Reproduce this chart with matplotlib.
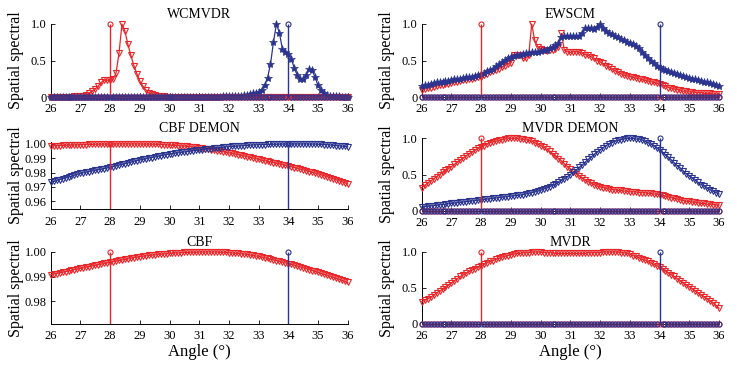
import numpy as np
import matplotlib
matplotlib.use("Agg")
import matplotlib.pyplot as plt

plt.rcParams["font.family"] = ["Liberation Serif", "DejaVu Serif"]

# scan grid (deg) and true source directions
angles = np.round(np.arange(26.0, 36.05, 0.1), 1)
source_angles = [28, 34]

wcmvdr_red = [
    0, 0, 0, 0, 0, 0, 0.005, 0.005, 0.01, 0.01,
    0.01, 0.02, 0.03, 0.05, 0.08, 0.11, 0.15, 0.2, 0.23, 0.23,
    0.23, 0.24, 0.33, 0.6, 1.0, 0.9, 0.72, 0.57, 0.43, 0.32,
    0.22, 0.15, 0.1, 0.06, 0.04, 0.03, 0.02, 0.01, 0.01, 0.005,
    0.005, 0, 0, 0, 0, 0, 0, 0, 0, 0,
    0, 0, 0, 0, 0, 0, 0, 0, 0, 0,
    0, 0, 0, 0, 0, 0, 0, 0, 0, 0,
    0, 0, 0, 0, 0, 0, 0, 0, 0, 0,
    0, 0, 0, 0, 0, 0, 0, 0, 0, 0,
    0, 0, 0, 0, 0, 0, 0, 0, 0, 0,
    0]
wcmvdr_blue = [
    0, 0, 0, 0, 0, 0, 0, 0, 0, 0,
    0, 0, 0, 0, 0, 0, 0, 0, 0, 0,
    0, 0, 0, 0, 0, 0, 0, 0, 0, 0,
    0, 0, 0, 0, 0, 0, 0, 0, 0, 0,
    0, 0, 0, 0, 0, 0, 0, 0, 0, 0,
    0, 0, 0, 0, 0, 0.005, 0.005, 0.005, 0.01, 0.01,
    0.01, 0.01, 0.01, 0.02, 0.02, 0.03, 0.03, 0.04, 0.05, 0.06,
    0.07, 0.1, 0.16, 0.26, 0.45, 0.75, 1.0, 0.88, 0.66, 0.62,
    0.59, 0.52, 0.4, 0.3, 0.25, 0.24, 0.3, 0.38, 0.37, 0.27,
    0.16, 0.09, 0.05, 0.03, 0.02, 0.01, 0.01, 0.01, 0.005, 0.005,
    0]

ewscm_red = [
    0.1, 0.11, 0.12, 0.13, 0.14, 0.15, 0.16, 0.17, 0.18, 0.18,
    0.19, 0.2, 0.21, 0.22, 0.23, 0.23, 0.24, 0.25, 0.26, 0.27,
    0.28, 0.3, 0.32, 0.34, 0.36, 0.37, 0.39, 0.41, 0.43, 0.45,
    0.47, 0.58, 0.58, 0.57, 0.53, 0.53, 0.57, 1.0, 0.78, 0.69,
    0.66, 0.64, 0.63, 0.64, 0.65, 0.66, 0.68, 0.87, 0.64, 0.62,
    0.61, 0.62, 0.62, 0.61, 0.6, 0.58, 0.57, 0.55, 0.53, 0.5,
    0.48, 0.46, 0.43, 0.41, 0.38, 0.36, 0.34, 0.32, 0.3, 0.29,
    0.28, 0.27, 0.26, 0.25, 0.24, 0.23, 0.22, 0.21, 0.2, 0.19,
    0.18, 0.16, 0.15, 0.13, 0.12, 0.11, 0.1, 0.09, 0.08, 0.08,
    0.07, 0.07, 0.06, 0.06, 0.06, 0.05, 0.05, 0.05, 0.04, 0.04,
    0.04]
ewscm_blue = [
    0.15, 0.16, 0.17, 0.18, 0.19, 0.2, 0.2, 0.21, 0.22, 0.22,
    0.23, 0.24, 0.24, 0.25, 0.26, 0.27, 0.27, 0.28, 0.29, 0.3,
    0.31, 0.33, 0.35, 0.37, 0.39, 0.42, 0.45, 0.48, 0.51, 0.53,
    0.55, 0.56, 0.57, 0.58, 0.59, 0.6, 0.6, 0.61, 0.62, 0.62,
    0.63, 0.64, 0.65, 0.67, 0.69, 0.71, 0.74, 0.82, 0.83, 0.83,
    0.83, 0.83, 0.83, 0.84, 0.88, 0.94, 0.95, 0.94, 0.93, 0.96,
    1.0, 0.95, 0.91, 0.88, 0.86, 0.84, 0.82, 0.8, 0.78, 0.76,
    0.74, 0.72, 0.7, 0.67, 0.62, 0.57, 0.53, 0.49, 0.46, 0.43,
    0.41, 0.39, 0.37, 0.36, 0.34, 0.33, 0.31, 0.3, 0.29, 0.27,
    0.26, 0.25, 0.24, 0.23, 0.22, 0.21, 0.2, 0.19, 0.18, 0.17,
    0.15]

cbf_demon_red = [
    .9986, .9987, .9988, .9989, .9990, .9991, .9992, .9993, .9993, .9994,
    .9995, .9996, .9996, .9997, .9997, .9998, .9998, .9999, .9999, .9999,
    .9999, 1.0, 1.0, 1.0, 1.0, 1.0, 1.0, 1.0, 1.0, 1.0,
    1.0, .9999, .9999, .9999, .9998, .9998, .9997, .9996, .9995, .9994,
    .9993, .9991, .9990, .9988, .9986, .9985, .9983, .9981, .9979, .9976,
    .9974, .9971, .9968, .9965, .9961, .9958, .9954, .9950, .9946, .9942,
    .9938, .9934, .9930, .9925, .9921, .9916, .9911, .9907, .9902, .9897,
    .9892, .9887, .9883, .9878, .9874, .9869, .9865, .9860, .9855, .9851,
    .9846, .9841, .9835, .9830, .9824, .9819, .9813, .9807, .9802, .9796,
    .9790, .9784, .9777, .9771, .9764, .9757, .9750, .9743, .9736, .9728,
    .9720]
cbf_demon_blue = [
    .9731, .9737, .9744, .9750, .9756, .9762, .9769, .9775, .9781, .9788,
    .9794, .9798, .9802, .9807, .9811, .9815, .9819, .9823, .9828, .9832,
    .9836, .9841, .9846, .9852, .9857, .9862, .9867, .9872, .9878, .9883,
    .9888, .9892, .9896, .9901, .9905, .9909, .9913, .9917, .9922, .9926,
    .9930, .9933, .9936, .9938, .9941, .9944, .9947, .9950, .9952, .9955,
    .9958, .9960, .9963, .9965, .9968, .9970, .9972, .9974, .9977, .9979,
    .9981, .9983, .9984, .9986, .9987, .9989, .9990, .9991, .9993, .9994,
    .9995, .9996, .9996, .9997, .9997, .9998, .9998, .9999, .9999, 1.0,
    1.0, 1.0, 1.0, 1.0, 1.0, 1.0, 1.0, .9999, .9999, .9999,
    .9998, .9997, .9996, .9995, .9993, .9991, .9989, .9987, .9985, .9983,
    .9980]

mvdr_demon_red = [
    .32, .35, .38, .41, .44, .47, .50, .53, .56, .58,
    .61, .64, .67, .70, .73, .76, .79, .81, .84, .86,
    .88, .90, .92, .94, .95, .96, .97, .98, .99, 1.0,
    1.0, 1.0, 1.0, .99, .99, .98, .97, .96, .94, .92,
    .90, .88, .85, .82, .79, .76, .72, .69, .65, .61,
    .58, .54, .51, .48, .45, .42, .40, .38, .36, .34,
    .33, .32, .31, .30, .29, .29, .28, .28, .27, .27,
    .26, .26, .26, .25, .25, .25, .24, .24, .23, .23,
    .22, .21, .20, .19, .18, .17, .16, .15, .14, .13,
    .13, .12, .115, .11, .10, .10, .09, .09, .085, .08,
    .08]
mvdr_demon_blue = [
    .05, .055, .06, .065, .07, .075, .08, .085, .09, .095,
    .10, .105, .11, .115, .12, .125, .13, .135, .14, .145,
    .15, .155, .16, .165, .17, .175, .18, .185, .19, .195,
    .20, .205, .21, .215, .22, .23, .24, .25, .26, .27,
    .28, .30, .31, .33, .35, .37, .39, .42, .44, .47,
    .50, .53, .56, .60, .63, .67, .71, .74, .78, .81,
    .84, .87, .90, .92, .94, .96, .97, .98, .99, 1.0,
    1.0, 1.0, .99, .99, .98, .96, .94, .92, .90, .87,
    .84, .81, .77, .74, .70, .66, .62, .59, .55, .51,
    .48, .45, .42, .39, .36, .34, .31, .29, .27, .25,
    .23]

cbf_red = [
    .9908, .9911, .9913, .9916, .9918, .9921, .9923, .9926, .9929, .9931,
    .9934, .9936, .9939, .9941, .9944, .9946, .9949, .9951, .9954, .9956,
    .9959, .9961, .9963, .9966, .9968, .9970, .9972, .9975, .9977, .9979,
    .9981, .9983, .9984, .9986, .9987, .9988, .9990, .9991, .9992, .9993,
    .9994, .9995, .9996, .9996, .9997, .9998, .9998, .9999, .9999, .9999,
    1.0, 1.0, 1.0, 1.0, 1.0, 1.0, 1.0, .9999, .9999, .9998,
    .9997, .9996, .9995, .9994, .9993, .9992, .9990, .9988, .9986, .9984,
    .9982, .9979, .9977, .9974, .9971, .9968, .9965, .9962, .9959, .9956,
    .9953, .9950, .9947, .9943, .9940, .9936, .9933, .9929, .9925, .9922,
    .9918, .9914, .9910, .9906, .9902, .9898, .9894, .9890, .9886, .9881,
    .9877]

mvdr_red = [
    .31, .33, .35, .37, .40, .43, .46, .48, .51, .54,
    .57, .60, .63, .66, .68, .71, .73, .75, .77, .79,
    .81, .83, .85, .87, .88, .90, .91, .93, .94, .95,
    .96, .97, .98, .98, .99, .99, .99, 1.0, 1.0, 1.0,
    1.0, .99, .99, .99, .99, .98, .98, .98, .98, .98,
    .98, .98, .98, .98, .98, .98, .99, .99, .99, .99,
    .99, 1.0, 1.0, 1.0, 1.0, 1.0, 1.0, .99, .99, .98,
    .97, .95, .94, .92, .90, .89, .87, .85, .83, .81,
    .79, .76, .74, .71, .68, .66, .63, .60, .57, .54,
    .52, .49, .46, .43, .40, .38, .35, .32, .29, .26,
    .22]

RED = "#e8262a"
BLUE = "#2b3590"
W, H = 737, 372


def panel(rect, title, curves, ylim, yticks, yticklabels, title_pad, xlabel=False):
    x0, y_top, x1, y_bot = rect
    ax = fig.add_axes([x0 / W, 1 - y_bot / H, (x1 - x0) / W, (y_bot - y_top) / H])
    for vals, color, marker in curves:
        if marker == "*":
            ax.plot(angles, vals, color=color, lw=0.9, marker="*", ms=6,
                    mfc=color, mec=color, mew=0.5, clip_on=False, zorder=3)
        else:
            ax.plot(angles, vals, color=color, lw=0.9, marker="v", ms=5,
                    mfc="none", mec=color, mew=0.8, clip_on=False, zorder=3)
    for src, color in zip(source_angles, [RED, BLUE]):
        truth = np.where(np.isclose(angles, src), 1.0, 0.0)
        ax.vlines(src, 0, 1, color=color, lw=1.0, zorder=4)
        inside = (truth >= ylim[0]) & (truth <= ylim[1])
        ax.plot(angles[inside], truth[inside], ls="none", marker="o", ms=3.6,
                mfc="none", mec=color, mew=0.8, clip_on=False, zorder=4)
    ax.set_xlim(26, 36)
    ax.set_ylim(*ylim)
    ax.set_xticks(range(26, 37))
    ax.set_yticks(yticks)
    ax.set_yticklabels(yticklabels)
    for s in ["top", "right"]:
        ax.spines[s].set_visible(False)
    for s in ["left", "bottom"]:
        ax.spines[s].set_linewidth(0.7)
    ax.tick_params(direction="in", length=3, width=0.6, labelsize=9)
    ax.tick_params(axis="x", pad=4.5)
    ax.tick_params(axis="y", pad=3)
    ax.set_title(title, fontsize=10, pad=title_pad)
    ax.set_ylabel("Spatial spectral", fontsize=11.5, va="center")
    ax.yaxis.set_label_coords(-35 / (x1 - x0), 0.5)
    if xlabel:
        ax.set_xlabel("Angle (°)", fontsize=12, labelpad=1)
    return ax


fig = plt.figure(figsize=(W / 100, H / 100), dpi=100)

L = (50.7, 347.7)
R = (421.7, 719.0)
unit = ([0, 0.5, 1.0], ["0", "0.5", "1.0"])

panel((L[0], 24, L[1], 97), "WCMVDR",
      [(wcmvdr_red, RED, "v"), (wcmvdr_blue, BLUE, "*")],
      (0, 1), *unit, title_pad=4.5)
panel((R[0], 24, R[1], 97), "EWSCM",
      [(ewscm_red, RED, "v"), (ewscm_blue, BLUE, "*")],
      (0, 1), *unit, title_pad=4.5)
panel((L[0], 141.7, L[1], 209.3), "CBF DEMON",
      [(cbf_demon_red, RED, "v"), (cbf_demon_blue, BLUE, "v")],
      (0.9542, 1.0016), [0.96, 0.97, 0.98, 0.99, 1.00],
      ["0.96", "0.97", "0.98", "0.99", "1.00"], title_pad=7)
panel((R[0], 138.3, R[1], 210.7), "MVDR DEMON",
      [(mvdr_demon_red, RED, "v"), (mvdr_demon_blue, BLUE, "v")],
      (0, 1), *unit, title_pad=4.5)
panel((L[0], 252, L[1], 324), "CBF",
      [(cbf_red, RED, "v")],
      (0.9709, 1.0), [0.98, 0.99, 1.00], ["0.98", "0.99", "1.00"],
      title_pad=4.5, xlabel=True)
panel((R[0], 252, R[1], 324), "MVDR",
      [(mvdr_red, RED, "v")],
      (0, 1), *unit, title_pad=4.5, xlabel=True)

fig.savefig("out.png", dpi=100)
